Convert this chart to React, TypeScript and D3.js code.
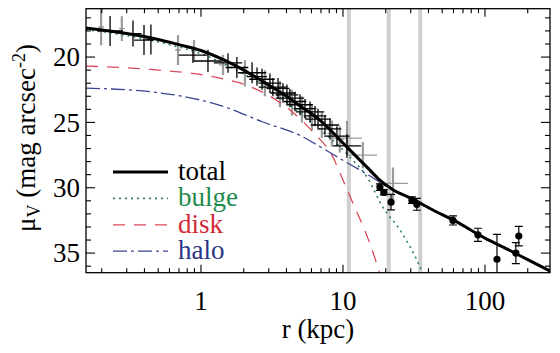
import * as d3 from 'd3';

// surface brightness profile: r in kpc, mu in mag arcsec^-2
const totalR = [0.155, 0.2, 0.3, 0.5, 0.7, 1, 1.5, 2, 3, 4, 5, 7, 10, 12, 15, 18, 22.5, 30, 43, 60, 100, 150, 200, 290];
const totalMu = [17.78, 17.93, 18.2, 18.65, 19.05, 19.5, 20.3, 21.0, 22.15, 23.0, 23.75, 24.9, 26.58, 27.45, 28.5, 29.38, 30.15, 30.8, 31.7, 32.48, 33.85, 34.8, 35.5, 36.4];

const bulgeR = [0.155, 0.3, 0.5, 1, 2, 3, 5, 7, 10, 11.2, 14.8, 19.1, 25.3, 33.2, 38];
const bulgeMu = [17.9, 18.35, 18.85, 19.75, 21.3, 22.45, 24.3, 25.6, 27.1, 27.66, 29.2, 31.5, 33.26, 35.55, 37.0];

const diskR = [0.155, 0.44, 1.34, 2.2, 3.4, 4.4, 6.1, 8.5, 10, 12.1, 14.3, 16.8, 19];
const diskMu = [20.69, 20.95, 21.6, 22.25, 23.3, 24.2, 25.7, 27.66, 29.4, 31.5, 33.3, 35.4, 37.3];

const haloR = [0.155, 0.46, 1, 1.5, 2.7, 5.2, 7, 10, 15.5, 22.5, 30, 43, 60, 100, 150, 200, 290];
const haloMu = [22.38, 22.68, 23.3, 23.85, 24.95, 26.1, 26.9, 27.9, 29.1, 30.2, 30.86, 31.75, 32.5, 33.88, 34.82, 35.52, 36.42];

// [r, mu, muErr, logRErr]
const blackCrosses = [
  [0.229, 18.0, 1.15, 0.09], [0.332, 18.2, 1.0, 0.06], [0.397, 18.7, 1.15, 0.07], [0.444, 18.65, 1.15, 0.03],
  [0.878, 19.85, 0.6, 0.1], [1.12, 20.3, 0.85, 0.1], [1.55, 20.45, 0.75, 0.1], [1.79, 20.8, 0.8, 0.08],
  [2.29, 21.2, 0.8, 0.1], [2.48, 21.5, 0.7, 0.07], [2.69, 21.7, 0.8, 0.09], [3.06, 22.0, 0.75, 0.08],
  [3.21, 22.3, 0.7, 0.1], [3.49, 22.4, 0.8, 0.08], [3.78, 22.75, 0.75, 0.09], [4.03, 22.9, 0.8, 0.08],
  [4.23, 23.15, 0.7, 0.1], [4.59, 23.4, 0.75, 0.08], [4.98, 23.65, 0.8, 0.09], [5.4, 23.95, 0.75, 0.08],
  [5.86, 24.2, 0.8, 0.1], [6.35, 24.5, 0.75, 0.08], [6.67, 24.75, 0.8, 0.09], [7.47, 25.2, 0.75, 0.1],
  [8.1, 25.5, 0.8, 0.08], [9.07, 26.05, 0.75, 0.09], [10.67, 26.8, 0.9, 0.1],
];

const grayCrosses = [
  [0.198, 17.7, 1.4, 0.02], [0.277, 17.82, 0.95, 0.02], [0.689, 19.46, 1.15, 0.02], [0.893, 19.5, 0.8, 0.02],
  [1.43, 20.6, 0.77, 0.03], [2.04, 21.25, 1.0, 0.03], [2.82, 22.0, 1.0, 0.03], [3.6, 22.85, 1.0, 0.03],
  [4.37, 23.5, 1.0, 0.03], [5.14, 24.0, 1.0, 0.03], [6.05, 24.6, 1.0, 0.03], [7.1, 25.2, 1.0, 0.03],
  [8.35, 25.85, 1.0, 0.03], [9.5, 26.3, 1.0, 0.03], [10.67, 26.2, 1.3, 0.105], [13.8, 27.5, 1.0, 0.1],
  [22.5, 29.66, 1.2, 0.105],
];

// [r, mu, muErr]
const dotPoints = [
  [18.2, 29.95, 0.25], [19.4, 30.35, 0.2], [21.8, 31.1, 0.6], [30.6, 30.95, 0.25], [33.1, 31.27, 0.45],
  [59.5, 32.5, 0.35], [89.2, 33.6, 0.5], [121.5, 35.47, 1.9], [165, 35.0, 0.8], [173, 33.7, 0.75],
];

const bandR = [11, 21, 35];
const yTickLabels = [20, 25, 30, 35];
const xTickLabels = [1, 10, 100];

const legendItems = [
  { name: 'total', line: '#000', text: '#000', dash: '', width: 3 },
  { name: 'bulge', line: '#2f7f6f', text: '#1f8a4c', dash: '2,4', width: 1.6 },
  { name: 'disk', line: '#d94a58', text: '#d42a3a', dash: '12,9', width: 1.3 },
  { name: 'halo', line: '#3a4490', text: '#2a3585', dash: '14,4,3,4', width: 1.3 },
];

const W = 560, H = 353;
const L = 86, R = 550, T = 8.7, B = 272.7;
const SERIF = '"Liberation Serif", monospace';

export default function App() {
  const x = d3.scaleLog().domain([0.155, 287]).range([L, R]);
  const y = d3.scaleLinear().domain([16.3, 36.5]).range([T, B]);

  const mkLine = (rs: number[], ms: number[]) =>
    d3.line<number>().x((_, i) => x(rs[i])).y(d => y(d)).curve(d3.curveMonotoneX)(ms) || '';

  const xTicks = x.ticks().filter(t => t >= 0.155 && t <= 287);
  const isMajorX = (t: number) => Math.abs(Math.log10(t) - Math.round(Math.log10(t))) < 1e-6;
  const yTicks = d3.range(17, 37);

  return (
    <svg width={W} height={H} style={{ position: 'absolute', left: 0, top: 0, background: '#fff' }}>
      <defs>
        <clipPath id="plot">
          <rect x={L} y={T} width={R - L} height={B - T} />
        </clipPath>
      </defs>

      {/* gray vertical bands */}
      {bandR.map(r => (
        <rect key={r} x={x(r) - 2} y={T} width={4} height={B - T} fill="#cfcfcf" />
      ))}

      <g clipPath="url(#plot)">
        {/* gray data set */}
        {grayCrosses.map(([r, m, e, lr], i) => (
          <g key={'g' + i} stroke="#8a8a8a" strokeOpacity={0.85}>
            <line x1={x(r)} x2={x(r)} y1={y(m - e)} y2={y(m + e)} strokeWidth={2.2} />
            <line x1={x(r / Math.pow(10, lr))} x2={x(r * Math.pow(10, lr))} y1={y(m)} y2={y(m)} strokeWidth={1.3} />
          </g>
        ))}

        {/* model components */}
        <path d={mkLine(diskR, diskMu)} fill="none" stroke={legendItems[2].line} strokeWidth={1.3} strokeDasharray="12,9" />
        <path d={mkLine(haloR, haloMu)} fill="none" stroke={legendItems[3].line} strokeWidth={1.3} strokeDasharray="14,4,3,4" />
        <path d={mkLine(bulgeR, bulgeMu)} fill="none" stroke={legendItems[1].line} strokeWidth={1.6} strokeDasharray="2,4" />

        {/* black data set */}
        {blackCrosses.map(([r, m, e, lr], i) => (
          <g key={'b' + i} stroke="#000" strokeWidth={1.3}>
            <line x1={x(r)} x2={x(r)} y1={y(m - e)} y2={y(m + e)} />
            <line x1={x(r / Math.pow(10, lr))} x2={x(r * Math.pow(10, lr))} y1={y(m)} y2={y(m)} />
          </g>
        ))}

        <path d={mkLine(totalR, totalMu)} fill="none" stroke="#000" strokeWidth={3} />

        {/* outer points */}
        {dotPoints.map(([r, m, e], i) => (
          <g key={'d' + i} stroke="#000" strokeWidth={1.2}>
            <line x1={x(r)} x2={x(r)} y1={y(m - e)} y2={y(m + e)} />
            <line x1={x(r) - 4} x2={x(r) + 4} y1={y(m - e)} y2={y(m - e)} />
            <line x1={x(r) - 4} x2={x(r) + 4} y1={y(m + e)} y2={y(m + e)} />
            <circle cx={x(r)} cy={y(m)} r={3.6} fill="#000" stroke="none" />
          </g>
        ))}
      </g>

      {/* frame and ticks */}
      <rect x={L} y={T} width={R - L} height={B - T} fill="none" stroke="#000" strokeWidth={1.3} />
      {xTicks.map(t => {
        const len = isMajorX(t) ? 8 : 4.5;
        return (
          <g key={'xt' + t} stroke="#000" strokeWidth={1.1}>
            <line x1={x(t)} x2={x(t)} y1={B} y2={B - len} />
            <line x1={x(t)} x2={x(t)} y1={T} y2={T + len} />
          </g>
        );
      })}
      {yTicks.map(t => {
        const len = t % 5 === 0 ? 9 : 5;
        return (
          <g key={'yt' + t} stroke="#000" strokeWidth={1.1}>
            <line x1={L} x2={L + len} y1={y(t)} y2={y(t)} />
            <line x1={R} x2={R - len} y1={y(t)} y2={y(t)} />
          </g>
        );
      })}

      <g style={{ fontFamily: SERIF }}>
        {yTickLabels.map(t => (
          <text key={'yl' + t} style={{ fontFamily: SERIF }} x={80} y={y(t)} dy="0.34em" textAnchor="end" fontSize={27}>{t}</text>
        ))}
        {xTickLabels.map(t => (
          <text key={'xl' + t} style={{ fontFamily: SERIF }} x={x(t)} y={310} textAnchor="middle" fontSize={27}>{t}</text>
        ))}

        <text style={{ fontFamily: SERIF }} x={318} y={338} textAnchor="middle" fontSize={27}>r (kpc)</text>
        <text style={{ fontFamily: SERIF }} transform="translate(35,138) rotate(-90)" textAnchor="middle" fontSize={27}>
          μ<tspan fontSize={18} dy={5}>V</tspan>
          <tspan dy={-5}> (mag arcsec</tspan>
          <tspan fontSize={18} dy={-10}>-2</tspan>
          <tspan dy={10}>)</tspan>
        </text>

        {/* legend */}
        {legendItems.map((it, i) => {
          const ly = 172 + i * 26.4;
          return (
            <g key={it.name}>
              <line x1={113} x2={168} y1={ly} y2={ly} stroke={it.line} strokeWidth={it.width} strokeDasharray={it.dash || undefined} />
              <text style={{ fontFamily: SERIF }} x={178} y={ly + 8} fontSize={27} fill={it.text}>{it.name}</text>
            </g>
          );
        })}
      </g>
    </svg>
  );
}
